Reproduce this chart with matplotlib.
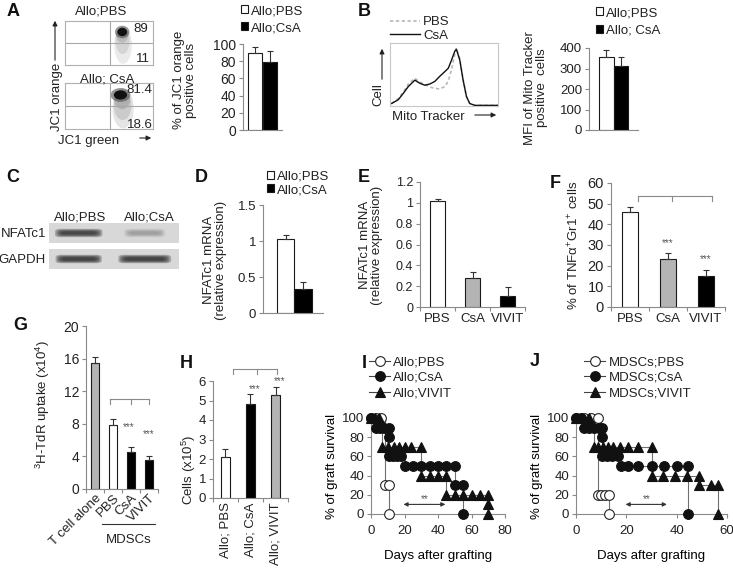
import matplotlib
matplotlib.use("Agg")
import matplotlib.pyplot as plt
from matplotlib.patches import Ellipse, Rectangle, FancyArrowPatch, FancyBboxPatch
from matplotlib.lines import Line2D
import matplotlib.transforms as mtransforms
import numpy as np

plt.rcParams['font.family'] = ['Liberation Sans', 'DejaVu Sans']
plt.rcParams['mathtext.fontset'] = 'custom'
plt.rcParams['mathtext.rm'] = 'Liberation Sans'
plt.rcParams['mathtext.it'] = 'Liberation Sans:italic'
plt.rcParams['font.size'] = 9
plt.rcParams['text.color'] = '#222222'
plt.rcParams['xtick.labelcolor'] = '#222222'
plt.rcParams['ytick.labelcolor'] = '#222222'

# ---- data ----
flow_titles = ['Allo;PBS', 'Allo; CsA']
flow_upper = ['89', '81.4']
flow_lower = ['11', '18.6']
jc1_groups = ['Allo;PBS', 'Allo;CsA']
jc1_pct = [89, 79]
jc1_err = [8, 13]

mito_x = [0.015, 0.077, 0.123, 0.17, 0.23, 0.277, 0.323, 0.37, 0.415, 0.46, 0.51, 0.54,
          0.57, 0.60, 0.615, 0.646, 0.677, 0.708, 0.738, 0.785, 1.0]
mito_pbs = [0.04, 0.12, 0.22, 0.35, 0.44, 0.38, 0.34, 0.30, 0.28, 0.27, 0.31, 0.40,
            0.58, 0.82, 0.92, 0.75, 0.42, 0.15, 0.04, 0.01, 0.01]
mito_csa = [0.04, 0.10, 0.20, 0.31, 0.41, 0.36, 0.33, 0.35, 0.39, 0.47, 0.55, 0.60,
            0.73, 0.87, 0.90, 0.73, 0.41, 0.15, 0.04, 0.01, 0.01]
mfi_groups = ['Allo;PBS', 'Allo; CsA']
mfi_vals = [355, 310]
mfi_err = [35, 45]

blot_lanes = ['Allo;PBS', 'Allo;CsA']
blot_rows = ['NFATc1', 'GAPDH']
nfatc1_band = [0.85, 0.22]
gapdh_band = [0.9, 0.9]

d_groups = ['Allo;PBS', 'Allo;CsA']
d_vals = [1.03, 0.33]
d_err = [0.05, 0.10]

e_groups = ['PBS', 'CsA', 'VIVIT']
e_vals = [1.02, 0.28, 0.11]
e_err = [0.02, 0.06, 0.08]

f_groups = ['PBS', 'CsA', 'VIVIT']
f_vals = [46, 23, 15]
f_err = [2.5, 3, 3]

g_groups = ['T cell alone', 'PBS', 'CsA', 'VIVIT']
g_vals = [15.4, 7.8, 4.6, 3.5]
g_err = [0.8, 0.8, 0.6, 0.6]

h_groups = ['Allo; PBS', 'Allo; CsA', 'Allo; VIVIT']
h_vals = [2.1, 4.8, 5.3]
h_err = [0.4, 0.55, 0.4]

# graft survival, one point per marker
i_pbs_day = [0, 3, 6, 8.5, 10.5, 11]
i_pbs_pct = [100, 100, 100, 30, 30, 0]
i_csa_day = [0, 3, 5.5, 8, 11, 11, 11, 13, 15.5, 18, 20.5, 25, 30, 35, 40, 45, 50, 50, 55, 55]
i_csa_pct = [100, 90, 90, 90, 90, 80, 60, 60, 60, 60, 50, 50, 50, 50, 50, 50, 50, 30, 30, 0]
i_viv_day = [0, 2.5, 5, 6.5, 10, 13.5, 17, 20.5, 24, 30, 30, 35, 40, 45, 45, 50, 55, 60, 65, 70, 70, 70]
i_viv_pct = [100, 100, 100, 70, 70, 70, 70, 70, 70, 70, 40, 40, 40, 40, 20, 20, 20, 20, 20, 20, 10, 0]
j_pbs_day = [0, 3, 6, 8.8, 8.8, 10, 11.5, 13, 13]
j_pbs_pct = [100, 100, 100, 100, 20, 20, 20, 20, 0]
j_csa_day = [0, 2, 3, 5, 7, 9, 10.2, 10.2, 10.5, 12.5, 14.5, 16.5, 18, 20.7, 24.6, 30, 35, 40, 44.5, 44.5]
j_csa_pct = [100, 100, 90, 90, 90, 90, 90, 80, 60, 60, 60, 60, 50, 50, 50, 50, 50, 50, 50, 0]
j_viv_day = [0, 2.5, 5, 7, 8.8, 10.8, 12.8, 14.7, 17.4, 20.7, 24.6, 30, 30, 34.5, 39.5, 44.3, 49, 49, 53.6, 56.5, 56.5]
j_viv_pct = [100, 100, 100, 70, 70, 70, 70, 70, 70, 70, 70, 70, 40, 40, 40, 40, 40, 30, 30, 30, 0]

AXC = '#8a8a8a'
EDGE = '#1a1a1a'
GRAY = '#b4b4b4'

W, H = 733, 569
fig = plt.figure(figsize=(W / 100, H / 100), dpi=100)


def box(l, t, r, b):
    return fig.add_axes([l / W, 1 - b / H, (r - l) / W, (b - t) / H])


def ftext(x, y, s, **kw):
    kw.setdefault('ha', 'center')
    kw.setdefault('va', 'center')
    return fig.text(x / W, 1 - y / H, s, **kw)


def farrow(x0, y0, x1, y1):
    fig.add_artist(FancyArrowPatch((x0 / W, 1 - y0 / H), (x1 / W, 1 - y1 / H),
                                   transform=fig.transFigure, arrowstyle='-|>',
                                   mutation_scale=7, color='#222222', lw=0.8))


def excel_axes(ax, ylim, yticks, ylabels, size=9.5):
    for s in ['top', 'right']:
        ax.spines[s].set_visible(False)
    for s in ['left', 'bottom']:
        ax.spines[s].set_color(AXC)
        ax.spines[s].set_linewidth(0.8)
    ax.set_ylim(*ylim)
    ax.set_yticks(yticks)
    ax.set_yticklabels(ylabels)
    ax.tick_params(axis='y', length=3, width=0.8, color=AXC, pad=2, labelsize=size)
    ax.tick_params(axis='x', which='both', color=AXC, width=0.8, labelsize=9.5)
    ax.patch.set_alpha(0)


def bars(ax, vals, errs, colors, width):
    x = np.arange(len(vals))
    ax.bar(x, vals, width=width, color=colors, edgecolor=EDGE, linewidth=0.8, zorder=2)
    ax.errorbar(x, vals, yerr=[np.zeros(len(vals)), errs], fmt='none', ecolor='#333333',
                elinewidth=0.8, capsize=2.5, capthick=0.8, zorder=3)


def cat_ticks(ax, labels, **kw):
    n = len(labels)
    ax.set_xlim(-0.5, n - 0.5)
    ax.set_xticks(range(n))
    ax.set_xticklabels(labels, **kw)
    ax.set_xticks(np.arange(n + 1) - 0.5, minor=True)
    ax.tick_params(axis='x', which='major', length=0, pad=4)
    ax.tick_params(axis='x', which='minor', length=3)


def sq_legend(ax, labels, colors, x, y, spacing):
    hs = [Rectangle((0, 0), 1, 1, fc=c, ec=EDGE, lw=0.8) for c in colors]
    ax.legend(hs, labels, loc='upper left', bbox_to_anchor=(x / W, 1 - y / H),
              bbox_transform=fig.transFigure, frameon=False, fontsize=9.5,
              handlelength=0.55, handleheight=0.55, handletextpad=0.2,
              labelspacing=spacing, borderpad=0, borderaxespad=0)


def bracket(ax, xs, y, drop):
    ax.plot([xs[0], xs[-1]], [y, y], color=AXC, lw=0.8, clip_on=False)
    for xv in xs:
        ax.plot([xv, xv], [y, y - drop], color=AXC, lw=0.8, clip_on=False)


def stars(ax, x, y, s='***'):
    ax.text(x, y, s, ha='center', va='center', fontsize=7, color='#555555')


# ---- panel letters ----
for lt, (px, py) in zip('ABCDEFGHIJ', [(13, 12), (364, 11), (13, 177), (201, 177), (364, 177),
                                        (555, 184), (20, 325), (186, 364), (364, 363), (535, 361)]):
    ftext(px, py, lt, fontsize=13, fontweight='bold', color='#111111')

# ---- A: JC1 flow plots ----
flow_boxes = [(65, 21, 153, 65), (65, 83, 153, 129)]
cloud = [[(0.66, 0.45, 0.2, 0.85, 0.16), (0.655, 0.55, 0.16, 0.6, 0.2), (0.65, 0.68, 0.14, 0.34, 0.3)],
         [(0.66, 0.45, 0.24, 0.88, 0.2), (0.655, 0.52, 0.2, 0.65, 0.25), (0.65, 0.64, 0.18, 0.42, 0.35)]]
cores = [(0.65, 0.75, 0.11, 0.19), (0.63, 0.74, 0.15, 0.2)]
for k, (l, t, r, b) in enumerate(flow_boxes):
    ax = box(l, t, r, b)
    ax.set_xlim(0, 1)
    ax.set_ylim(0, 1)
    ax.set_xticks([])
    ax.set_yticks([])
    for s in ax.spines.values():
        s.set_color('#b0b0b0')
        s.set_linewidth(0.8)
    ax.axvline(0.51, color='#a8a8a8', lw=0.8)
    ax.axhline(0.51, color='#a8a8a8', lw=0.8)
    for (cx, cy, w, h, a) in cloud[k]:
        ax.add_patch(Ellipse((cx, cy), w, h, color='#808080', alpha=a, lw=0))
    cx, cy, w, h = cores[k]
    ax.add_patch(Ellipse((cx, cy), w * 1.5, h * 1.5, color='#444444', alpha=0.55, lw=0))
    ax.add_patch(Ellipse((cx, cy), w, h, color='#111111', lw=0))
ftext(101, 12, flow_titles[0], fontsize=9.5)
ftext(107, 79, flow_titles[1], fontsize=9.5)
ftext(141, 29, flow_upper[0], fontsize=9.5)
ftext(143, 59, flow_lower[0], fontsize=9.5)
ftext(139, 90, flow_upper[1], fontsize=9.5)
ftext(140, 125, flow_lower[1], fontsize=9.5)
ftext(57, 97, 'JC1 orange', rotation=90, fontsize=9.5)
farrow(55, 63, 55, 18)
ftext(89, 141, 'JC1 green', fontsize=9.5)
farrow(137, 138, 154, 138)

# ---- A: bar chart ----
ax = box(243, 44, 282, 130)
bars(ax, jc1_pct, jc1_err, ['white', 'black'], 0.97)
excel_axes(ax, (0, 100), range(0, 101, 20), [str(v) for v in range(0, 101, 20)], size=10)
ax.set_xlim(-0.83, 1.86)
ax.set_xticks([])
sq_legend(ax, jc1_groups, ['white', 'black'], 241, 5, 0.38)
ftext(185, 80, '% of JC1 orange\npositive cells', rotation=90, fontsize=9.5, linespacing=1.1)

# ---- B: histogram ----
ax = box(390, 43, 498, 106)
ax.plot(mito_x, mito_pbs, color='#b8b8b8', lw=1.2, ls=(0, (2, 1.5)), label='PBS')
ax.plot(mito_x, mito_csa, color='#111111', lw=1.0, label='CsA')
ax.set_xlim(0, 1)
ax.set_ylim(0, 1)
ax.set_xticks([])
ax.set_yticks([])
for s in ax.spines.values():
    s.set_color('#c8c8c8')
    s.set_linewidth(0.8)
ax.legend(loc='upper left', bbox_to_anchor=(390 / W, 1 - 16 / H), bbox_transform=fig.transFigure,
          frameon=False, fontsize=9.5, handlelength=2.3, handletextpad=0.2, labelspacing=0.08,
          borderpad=0, borderaxespad=0)
ftext(378, 95, 'Cell', rotation=90, fontsize=9.5)
farrow(382, 82, 382, 46)
ftext(428, 117, 'Mito Tracker', fontsize=9.5)
farrow(472, 115, 499, 115)

# ---- B: bar chart ----
ax = box(589, 48, 638, 130)
bars(ax, mfi_vals, mfi_err, ['white', 'black'], 1.0)
excel_axes(ax, (0, 400), range(0, 401, 100), [str(v) for v in range(0, 401, 100)])
ax.set_xlim(-1.2, 2.17)
ax.set_xticks([])
sq_legend(ax, mfi_groups, ['white', 'black'], 596, 7, 0.45)
ftext(536, 88, 'MFI of Mito Tracker\npositive  cells', rotation=90, fontsize=9.5, linespacing=1.1)

# ---- C: western blot ----
band_w = [[0.72, 0.62], [0.70, 0.80]]
for r, (levels, (t, b)) in enumerate(zip([nfatc1_band, gapdh_band], [(223, 243), (249, 269)])):
    ax = box(49, t, 179, b)
    ax.set_xlim(-0.45, 1.52)
    ax.set_ylim(0, 1)
    ax.set_facecolor('#d8d8d8')
    ax.set_xticks([])
    ax.set_yticks([])
    for s in ax.spines.values():
        s.set_visible(False)
    for i, lv in enumerate(levels):
        for k in range(5):
            w = band_w[r][i] * (1 - 0.06 * k)
            h = 0.42 * (1 - 0.16 * k)
            ax.add_patch(FancyBboxPatch((i - w / 2, 0.5 - h / 2), w, h,
                                        boxstyle='round,pad=0,rounding_size=0.08',
                                        mutation_aspect=1.5,
                                        color='#202020', alpha=lv * 0.3, lw=0))
    ftext(46, (t + b) / 2 + 1, blot_rows[r], ha='right', fontsize=9.5)
ftext(80, 217, blot_lanes[0], fontsize=9.5)
ftext(149, 217, blot_lanes[1], fontsize=9.5)

# ---- D ----
ax = box(263, 205, 323, 313)
bars(ax, d_vals, d_err, ['white', 'black'], 1.0)
excel_axes(ax, (0, 1.5), [0, 0.5, 1, 1.5], ['0', '0.5', '1', '1.5'])
ax.set_xlim(-1.29, 2.14)
ax.set_xticks([])
sq_legend(ax, d_groups, ['white', 'black'], 267, 171, 0.08)
ftext(215, 260, 'NFATc1 mRNA\n(relative expression)', rotation=90, fontsize=9.5, linespacing=1.1)

# ---- E ----
ax = box(420, 182, 525, 307)
bars(ax, e_vals, e_err, ['white', GRAY, 'black'], 0.42)
excel_axes(ax, (0, 1.2), np.arange(0, 1.21, 0.2), ['0', '0.2', '0.4', '0.6', '0.8', '1', '1.2'], size=9)
cat_ticks(ax, e_groups)
ftext(371, 245, 'NFATc1 mRNA\n(relative expression)', rotation=90, fontsize=9.5, linespacing=1.1)

# ---- F ----
ax = box(611, 183, 725, 307)
bars(ax, f_vals, f_err, ['white', GRAY, 'black'], 0.4)
excel_axes(ax, (0, 60), range(0, 61, 10), [str(v) for v in range(0, 61, 10)], size=10.5)
cat_ticks(ax, f_groups)
bracket(ax, [0.2, 1.1, 2.15], 53.5, 2)
stars(ax, 1, 31)
stars(ax, 2, 23)
ftext(574, 245, '% of TNFα$^{+}$Gr1$^{+}$ cells', rotation=90, fontsize=9.5)

# ---- G ----
ax = box(86, 326, 158, 489)
bars(ax, g_vals, g_err, [GRAY, 'white', 'black', 'black'], 0.4)
excel_axes(ax, (0, 20), range(0, 21, 4), [str(v) for v in range(0, 21, 4)], size=10)
cat_ticks(ax, g_groups, rotation=45, ha='right', rotation_mode='anchor')
ax.tick_params(axis='x', which='major', pad=2)
bracket(ax, [0.83, 2.0, 3.0], 11, 0.6)
stars(ax, 1.85, 7.6)
stars(ax, 3.0, 6.8)
tr = mtransforms.blended_transform_factory(ax.transData, ax.transAxes)
ax.plot([0.4, 3.35], [-0.215, -0.215], color='#333333', lw=0.8, transform=tr, clip_on=False)
ax.text(1.85, -0.31, 'MDSCs', transform=tr, ha='center', va='center', fontsize=9.5)
ftext(43, 405, '$^{3}$H-TdR uptake (x10$^{4}$)', rotation=90, fontsize=9.5)

# ---- H ----
ax = box(213, 381, 288, 498)
bars(ax, h_vals, h_err, ['white', 'black', GRAY], 0.38)
excel_axes(ax, (0, 6), range(0, 7), [str(v) for v in range(0, 7)])
cat_ticks(ax, h_groups, rotation=90, ha='center', va='top')
ax.tick_params(axis='x', which='major', pad=3)
bracket(ax, [0.3, 1.26, 2.06], 6.6, 0.25)
stars(ax, 1.15, 5.6)
stars(ax, 2.15, 6.0)
ftext(189, 470, 'Cells (x10$^{5}$)', rotation=90, fontsize=9.5)


# ---- I / J survival ----
def survival(ax, groups, xmax, names, leg_xy, arrow_x):
    styles = [dict(marker='o', mfc='white', mec='#222222'),
              dict(marker='o', mfc='#111111', mec='#111111'),
              dict(marker='^', mfc='#111111', mec='#111111')]
    handles = []
    for (days, pct), st, name in zip(groups, styles, names):
        ax.step(days, pct, where='post', color='#707070', lw=0.8, zorder=1, clip_on=False)
        ax.plot(days, pct, ls='none', ms=7, mew=0.8, zorder=3, clip_on=False, **st)
        handles.append(Line2D([], [], color='#444444', lw=0.8, ms=7, mew=0.8, **st))
    for s in ['top', 'right']:
        ax.spines[s].set_visible(False)
    for s in ['left', 'bottom']:
        ax.spines[s].set_color(AXC)
        ax.spines[s].set_linewidth(0.8)
    ax.set_xlim(0, xmax)
    ax.set_ylim(0, 100)
    ax.set_xticks(range(0, xmax + 1, 20))
    ax.set_yticks(range(0, 101, 20))
    ax.tick_params(length=3, width=0.8, color=AXC, labelsize=9.5, pad=5)
    ax.tick_params(axis='y', pad=2)
    ax.patch.set_alpha(0)
    ax.annotate('', xy=(arrow_x[1], 10), xytext=(arrow_x[0], 10),
                arrowprops=dict(arrowstyle='<|-|>', color='#333333', lw=0.8,
                                mutation_scale=6, shrinkA=0, shrinkB=0))
    ax.text(sum(arrow_x) / 2, 15.5, '**', ha='center', va='center', fontsize=7, color='#555555')
    ax.legend(handles, names, loc='upper left', bbox_to_anchor=(leg_xy[0] / W, 1 - leg_xy[1] / H),
              bbox_transform=fig.transFigure, frameon=False, fontsize=9.5,
              handlelength=1.6, handletextpad=0.25, labelspacing=0.25,
              borderpad=0, borderaxespad=0)


ax = box(371, 418, 505, 514)
survival(ax, [(i_pbs_day, i_pbs_pct), (i_csa_day, i_csa_pct), (i_viv_day, i_viv_pct)], 80,
         ['Allo;PBS', 'Allo;CsA', 'Allo;VIVIT'], (369, 356), (19.4, 44.4))
ax.set_ylabel('% of graft survival', fontsize=9.5, labelpad=3)
ax.set_xlabel('Days after grafting', fontsize=9.5, labelpad=9)

ax = box(576, 418, 727, 514)
survival(ax, [(j_pbs_day, j_pbs_pct), (j_csa_day, j_csa_pct), (j_viv_day, j_viv_pct)], 60,
         ['MDSCs;PBS', 'MDSCs;CsA', 'MDSCs;VIVIT'], (584, 356), (19.7, 36.1))
ax.set_ylabel('% of graft survival', fontsize=9.5, labelpad=3)
ax.set_xlabel('Days after grafting', fontsize=9.5, labelpad=9)

fig.savefig('out.png', dpi=100)
